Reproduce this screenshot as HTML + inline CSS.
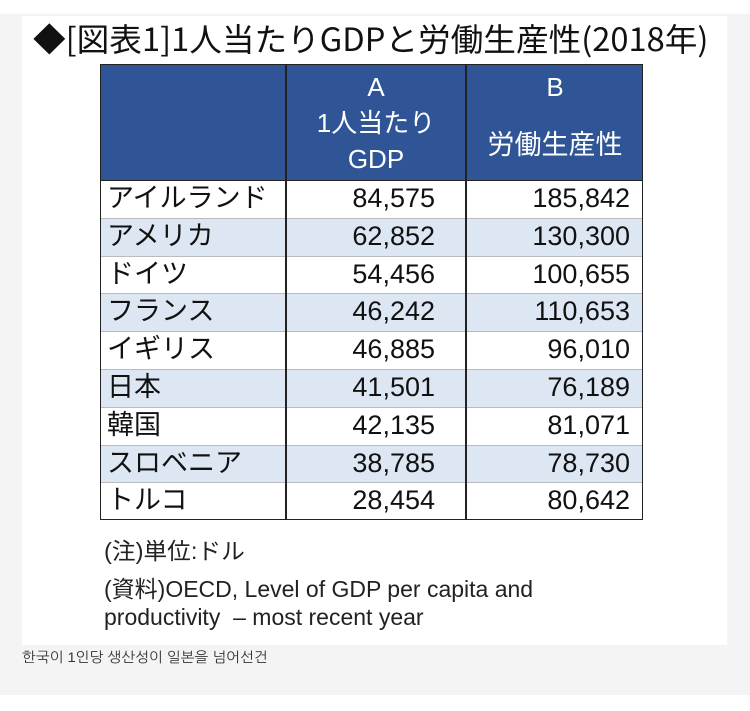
<!DOCTYPE html>
<html><head><meta charset="utf-8"><style>
body{margin:0;width:750px;height:711px;background:#fff;position:relative;overflow:hidden;font-family:"Liberation Sans","Noto Sans CJK JP",sans-serif;}
.gray{position:absolute;left:0;top:14px;width:750px;height:681px;background:#f4f4f4;}
.card{position:absolute;left:22px;top:16px;width:705px;height:629px;background:#fff;}
.t{position:absolute;white-space:nowrap;transform-origin:0 0;}
.tbl{position:absolute;left:100px;top:64px;width:543px;height:456px;border:1.5px solid #222;box-sizing:border-box;}
.hdr{position:absolute;left:0;top:0;width:100%;height:115px;background:#2f5597;}
.row{position:absolute;left:0;width:100%;height:37.8px;border-top:1px solid #bbb;box-sizing:border-box;}
.vl{position:absolute;top:0;width:1.5px;height:100%;background:#222;}
.c{position:absolute;font-size:27px;line-height:37px;color:#111;}
.h{position:absolute;color:#fff;font-size:26px;text-align:center;}
</style></head><body>
<div class="gray"></div>
<div class="card"></div>
<div class="t" style="left:33px;top:16px;font-size:32px;transform:scaleX(1.02);color:#111;font-family:'Noto Sans CJK JP',sans-serif;line-height:44px;">◆[図表1]1人当たりGDPと労働生産性(2018年)</div>
<div class="tbl">
<div class="hdr"></div>
<div class="h" style="left:185px;width:180px;top:4px;line-height:36px;">A<br>1人当たり<br>GDP</div>
<div class="h" style="left:365px;width:178px;top:4px;line-height:36px;">B</div>
<div class="h" style="left:365px;width:178px;top:58px;font-size:27px;">労働生産性</div>
<div class="row" style="top:115px;background:#fff;border-top:1.5px solid #222"></div>
<div class="row" style="top:152.8px;background:#dde7f3"></div>
<div class="row" style="top:190.6px;background:#fff"></div>
<div class="row" style="top:228.4px;background:#dde7f3"></div>
<div class="row" style="top:266.2px;background:#fff"></div>
<div class="row" style="top:304px;background:#dde7f3"></div>
<div class="row" style="top:341.8px;background:#fff"></div>
<div class="row" style="top:379.6px;background:#dde7f3"></div>
<div class="row" style="top:417.4px;background:#fff;height:37px"></div>
<div class="vl" style="left:184px"></div>
<div class="vl" style="left:364px"></div>
<div class="c" style="left:6px;top:115px">アイルランド</div><div class="c" style="right:207px;top:115px;">84,575</div><div class="c" style="right:12px;top:115px">185,842</div>
<div class="c" style="left:6px;top:153px">アメリカ</div><div class="c" style="right:207px;top:153px;">62,852</div><div class="c" style="right:12px;top:153px">130,300</div>
<div class="c" style="left:6px;top:191px">ドイツ</div><div class="c" style="right:207px;top:191px;">54,456</div><div class="c" style="right:12px;top:191px">100,655</div>
<div class="c" style="left:6px;top:228px">フランス</div><div class="c" style="right:207px;top:228px;">46,242</div><div class="c" style="right:12px;top:228px">110,653</div>
<div class="c" style="left:6px;top:266px">イギリス</div><div class="c" style="right:207px;top:266px;">46,885</div><div class="c" style="right:12px;top:266px">96,010</div>
<div class="c" style="left:6px;top:304px">日本</div><div class="c" style="right:207px;top:304px;">41,501</div><div class="c" style="right:12px;top:304px">76,189</div>
<div class="c" style="left:6px;top:342px">韓国</div><div class="c" style="right:207px;top:342px;">42,135</div><div class="c" style="right:12px;top:342px">81,071</div>
<div class="c" style="left:6px;top:380px">スロベニア</div><div class="c" style="right:207px;top:380px;">38,785</div><div class="c" style="right:12px;top:380px">78,730</div>
<div class="c" style="left:6px;top:417px">トルコ</div><div class="c" style="right:207px;top:417px;">28,454</div><div class="c" style="right:12px;top:417px">80,642</div>
</div>
<div class="t" style="left:104px;top:532px;font-size:23px;color:#222;transform:scaleX(1.03)">(注)単位:ドル</div>
<div class="t" style="left:104px;top:570px;font-size:23px;color:#222;transform:scaleX(1.0)">(資料)OECD, Level of GDP per capita and</div>
<div class="t" style="left:104px;top:604px;font-size:23px;color:#222;transform:scaleX(1.0)">productivity &nbsp;– most recent year</div>
<div class="t" style="left:22px;top:649px;font-size:14px;color:#333;transform:scaleX(1.05);font-family:'Liberation Sans','NanumGothic',sans-serif;">한국이 1인당 생산성이 일본을 넘어선건</div>
</body></html>
